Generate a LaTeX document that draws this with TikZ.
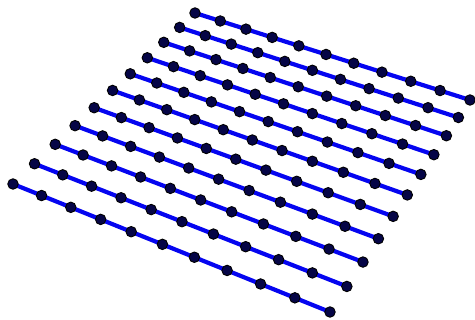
\documentclass[tikz,border=0pt]{standalone}
\definecolor{gridblue}{RGB}{5,5,240}
\definecolor{dotfill}{RGB}{5,5,70}
\tikzset{
  gridline/.style={draw=gridblue, line width=4.2pt, line cap=round},
  griddot/.style={circle, inner sep=0pt, minimum size=10.5pt, fill=dotfill, draw=black, line width=0.9pt}
}
\begin{document}
\begin{tikzpicture}[x=1pt,y=-1pt]
\useasboundingbox (0,0) rectangle (475,320);
\foreach \i in {0,...,10}{
  \foreach \j in {0,...,10}{
    \pgfmathsetmacro\u{\j/10}
    \pgfmathsetmacro\v{\i/10}
    \pgfmathsetmacro\w{1-0.08953*\u-0.17203*\v}
    \pgfmathsetmacro\X{(195+232.92*\u-184.24*\v)/\w}
    \pgfmathsetmacro\Y{(13+78.05*\u+139.35*\v)/\w}
    \coordinate (p-\i-\j) at (\X,\Y);
  }
}
\foreach \i in {0,...,10}{
  \draw[gridline] (p-\i-0) -- (p-\i-10);
}
\foreach \i in {0,...,10}{
  \foreach \j in {0,...,10}{
    \node[griddot] (n-\i-\j) at (p-\i-\j) {};
  }
}
\end{tikzpicture}
\end{document}
